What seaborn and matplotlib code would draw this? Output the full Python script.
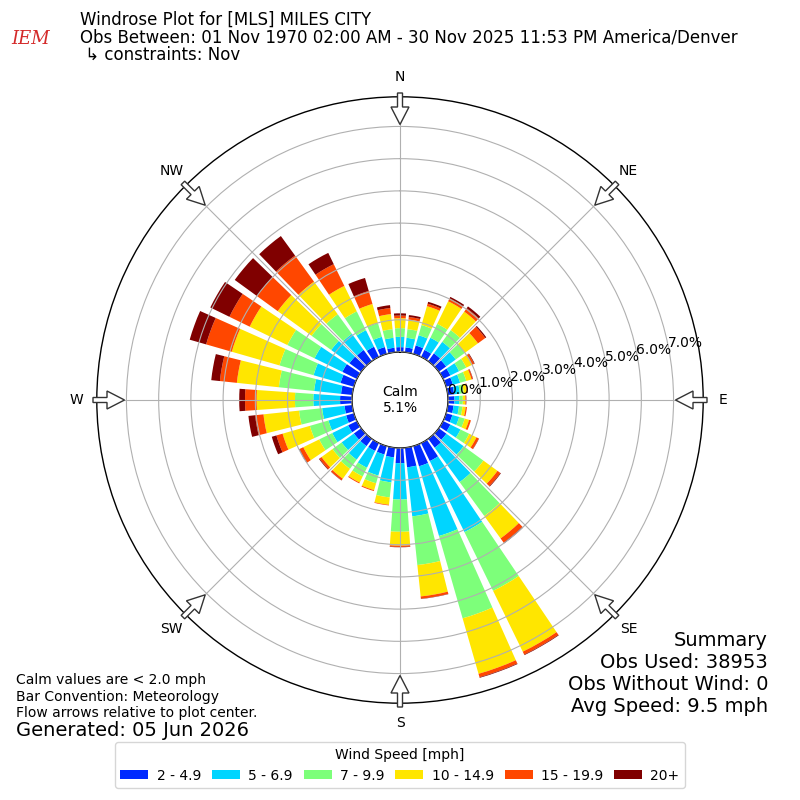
import numpy as np
import matplotlib
matplotlib.use("Agg")
import matplotlib.pyplot as plt
from matplotlib.patches import Patch, FancyArrow
import seaborn as sns

# direction bins (deg, meteorological) and frequency (%) per speed bin
directions = np.arange(0, 360, 10)
speed_labels = ['2 - 4.9', '5 - 6.9', '7 - 9.9', '10 - 14.9', '15 - 19.9', '20+']

pct_2_5 = [0.15, 0.15, 0.27, 0.24, 0.30, 0.28, 0.25, 0.22, 0.20, 0.20,
           0.18, 0.20, 0.25, 0.29, 0.34, 0.62, 0.65, 0.61, 0.47, 0.30,
           0.27, 0.27, 0.28, 0.28, 0.30, 0.25, 0.24, 0.37, 0.35, 0.43,
           0.50, 0.45, 0.43, 0.35, 0.22, 0.14]
pct_5_7 = [0.32, 0.30, 0.33, 0.42, 0.44, 0.37, 0.30, 0.23, 0.18, 0.15,
           0.17, 0.22, 0.35, 0.66, 1.32, 2.45, 2.25, 1.53, 1.13, 0.78,
           0.68, 0.58, 0.52, 0.47, 0.55, 0.57, 0.70, 0.83, 0.84, 0.87,
           0.96, 0.70, 0.62, 0.57, 0.33, 0.31]
pct_7_10 = [0.27, 0.27, 0.33, 0.48, 0.45, 0.35, 0.25, 0.20, 0.12, 0.11,
            0.11, 0.18, 0.30, 0.76, 1.30, 2.03, 2.66, 1.52, 1.00, 0.47,
            0.25, 0.30, 0.35, 0.35, 0.45, 0.60, 0.72, 0.57, 1.10, 1.10,
            0.94, 0.75, 0.75, 0.65, 0.44, 0.27]
pct_10_15 = [0.31, 0.30, 0.61, 0.78, 0.71, 0.50, 0.20, 0.17, 0.10, 0.08,
             0.10, 0.14, 0.25, 0.54, 0.86, 2.10, 1.79, 0.98, 0.43, 0.23,
             0.22, 0.21, 0.38, 0.42, 0.55, 0.88, 1.11, 1.19, 1.31, 1.54,
             1.30, 1.30, 1.25, 0.88, 0.62, 0.47]
pct_15_20 = [0.08, 0.08, 0.08, 0.10, 0.13, 0.28, 0.07, 0.04, 0.02, 0.02,
             0.04, 0.06, 0.08, 0.11, 0.16, 0.10, 0.11, 0.07, 0.04, 0.02,
             0.03, 0.03, 0.06, 0.08, 0.13, 0.20, 0.26, 0.36, 0.53, 0.83,
             0.70, 0.80, 1.00, 0.75, 0.42, 0.19]
pct_20_up = [0.07, 0.06, 0.06, 0.05, 0.07, 0.04, 0.02, 0.01, 0.01, 0.01,
             0.00, 0.00, 0.01, 0.02, 0.03, 0.02, 0.02, 0.01, 0.01, 0.00,
             0.00, 0.00, 0.01, 0.02, 0.02, 0.15, 0.21, 0.18, 0.27, 0.53,
             0.66, 0.85, 0.75, 0.39, 0.42, 0.09]

calm_pct = 5.1
ring_values = [0, 1, 2, 3, 4, 5, 6, 7]
compass_labels = ['N', 'NE', 'E', 'SE', 'S', 'SW', 'W', 'NW']
compass_angles = np.arange(0, 360, 45)

title_lines = ["Windrose Plot for [MLS] MILES CITY",
               "Obs Between: 01 Nov 1970 02:00 AM - 30 Nov 2025 11:53 PM America/Denver",
               " \u21b3 constraints: Nov"]
notes = ["Calm values are < 2.0 mph", "Bar Convention: Meteorology",
         "Flow arrows relative to plot center."]
generated = "Generated: 05 Jun 2026"
summary_lines = ["Summary", "Obs Used: 38953", "Obs Without Wind: 0",
                 "Avg Speed: 9.5 mph"]


def main():
    sns.set_style("white")
    plt.rcParams['font.family'] = ['DejaVu Sans']
    plt.rcParams['text.color'] = 'black'
    plt.rcParams['axes.edgecolor'] = 'black'

    colors = sns.color_palette(list(plt.cm.jet(np.arange(1, 7) / 6.0)))
    series = np.array([pct_2_5, pct_5_7, pct_7_10, pct_10_15, pct_15_20, pct_20_up])

    fig = plt.figure(figsize=(8, 8), dpi=100)
    ax = fig.add_axes([0.121, 0.121, 0.758, 0.758], projection='polar')
    ax.set_theta_zero_location('N')
    ax.set_theta_direction(-1)

    rmax = 7.92
    rorigin = -1.49
    ax.set_rorigin(rorigin)
    ax.set_ylim(0, rmax)
    ax_px = 0.758 * 800  # axes size in pixels

    def px2r(px):
        # radius in pixels from the centre -> data radius
        return rorigin + px / 303.0 * (rmax - rorigin)

    theta = np.deg2rad(directions)
    width = np.deg2rad(10) * 0.8
    bottom = np.zeros(len(directions))
    for vals, col in zip(series, colors):
        ax.bar(theta, vals, width=width, bottom=bottom, color=col,
               linewidth=0, zorder=1)
        bottom = bottom + vals

    ax.set_yticks(ring_values)
    ax.set_yticklabels([])
    ax.set_xticks(np.deg2rad(compass_angles))
    ax.set_xticklabels([])
    ax.set_axisbelow(False)
    ax.grid(True, color='#b0b0b0', linewidth=0.8, zorder=2)
    for name in ('polar', 'inner'):
        ax.spines[name].set_linewidth(1.0)
        ax.spines[name].set_edgecolor('black')

    # radial labels
    for v in ring_values:
        ax.text(np.deg2rad(78), v, f"{v:.1f}%", ha='left', va='center',
                fontsize=10, zorder=5)

    # compass labels and flow arrows pointing to the centre
    for ang, lab in zip(compass_angles, compass_labels):
        t = np.deg2rad(ang)
        ax.text(t, px2r(323), lab, ha='center', va='center', fontsize=10,
                clip_on=False)
        ux, uy = np.sin(t), np.cos(t)
        r0, r1 = 307 / ax_px, 275.5 / ax_px
        arr = FancyArrow(0.5 + r0 * ux, 0.5 + r0 * uy,
                         -(r0 - r1) * ux, -(r0 - r1) * uy,
                         width=5 / ax_px, head_width=18 / ax_px,
                         head_length=17.5 / ax_px, length_includes_head=True,
                         transform=ax.transAxes, clip_on=False,
                         facecolor='white', edgecolor='#333333', linewidth=1.0,
                         zorder=6)
        ax.add_patch(arr)

    ax.text(0.5, 0.5, f"Calm\n{calm_pct:.1f}%", transform=ax.transAxes,
            ha='center', va='center', fontsize=10)

    # header
    for i, line in enumerate(title_lines):
        fig.text(0.1, 1 - (20 + 17.5 * i) / 800, line, fontsize=12,
                 ha='left', va='center')
    fig.text(0.038, 1 - 39 / 800, "IEM", fontsize=13, color='#d42a2a',
             family='DejaVu Serif', style='italic', ha='center', va='center')

    # footer notes
    for i, line in enumerate(notes):
        fig.text(0.02, 1 - (680 + 16.5 * i) / 800, line, fontsize=10,
                 ha='left', va='center')
    fig.text(0.02, 1 - 730 / 800, generated, fontsize=14, ha='left', va='center')

    for i, line in enumerate(summary_lines):
        fig.text(0.96, 1 - (640 + 22 * i) / 800, line, fontsize=14,
                 ha='right', va='center')

    handles = [Patch(facecolor=c, edgecolor='none') for c in colors]
    fig.legend(handles, speed_labels, loc='center', ncol=6,
               bbox_to_anchor=(0.5, 0.0435), title='Wind Speed [mph]',
               fontsize=10, title_fontsize=10, handlelength=2.0,
               handleheight=0.6, handletextpad=0.6, columnspacing=0.8,
               frameon=True)

    fig.savefig('out.png', dpi=100)
    plt.close(fig)


if __name__ == "__main__":
    main()
